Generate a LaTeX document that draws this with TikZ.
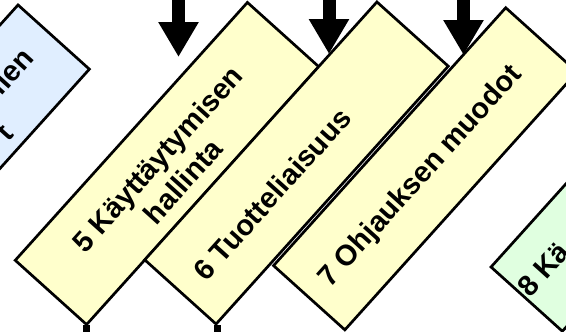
\documentclass[tikz,border=0pt]{standalone}
\usepackage{fontspec}
\setmainfont{Liberation Sans}
\usetikzlibrary{arrows.meta}
\definecolor{boxyellow}{RGB}{255,255,204}
\definecolor{boxblue}{RGB}{224,238,255}
\definecolor{boxgreen}{RGB}{224,255,224}
\begin{document}
\begin{tikzpicture}[x=1pt,y=-1pt,
  blk/.style={draw=black, line width=2.7pt, rectangle, rotate=48,
    minimum width=347pt, minimum height=96pt, inner sep=0pt, outer sep=0pt},
  lbl/.style={rotate=48, font=\fontsize{29}{34}\selectfont\bfseries,
    align=center, inner sep=0pt},
  downarrow/.style={line width=13pt, -{Triangle[width=38pt,length=35pt]}},
  stem/.style={line width=7pt}]
\useasboundingbox (0,0) rectangle (566,332);
\clip (0,0) rectangle (566,332);
% stem end points below the picture
\coordinate (e5) at (86.6,350);
\coordinate (e6) at (217,350);
% boxes
\node[blk, fill=boxblue] (b4) at (-62.4,166) {};
\draw[stem] (86.6,324.5) coordinate (s5) -- (e5);
\draw[stem] (217,325) coordinate (s6) -- (e6);
\node[blk, fill=boxyellow] (b5) at (167,163.5) {};
\node[blk, fill=boxyellow] (b6) at (296.5,163) {};
\node[blk, fill=boxyellow] (b7) at (425.3,168.8) {};
\node[blk, fill=boxgreen] (b8) at (642.8,170.2) {};
% texts
\node[lbl, anchor=base east] (t4a) at (35.5,59.5) {llen};
\node[lbl, anchor=base east] (t4b) at (15.5,135.5) {t};
\node[lbl] (t5) at (170,170) {5 Käyttäytymisen\\hallinta};
\node[lbl] (t6) at (272,194) {6 Tuotteliaisuus};
\node[lbl] (t7) at (421,177) {7 Ohjauksen muodot};
\node[lbl, anchor=base west] (t8) at (530,299) {8 Kä};
% arrows
\coordinate (a1s) at (178.5,-10); \coordinate (a1e) at (178.5,57);
\coordinate (a2s) at (329,-10);   \coordinate (a2e) at (329,54);
\coordinate (a3s) at (463.5,-10); \coordinate (a3e) at (463.5,55);
\draw[downarrow] (a1s) -- (a1e);
\draw[downarrow] (a2s) -- (a2e);
\draw[downarrow] (a3s) -- (a3e);
\end{tikzpicture}
\end{document}
